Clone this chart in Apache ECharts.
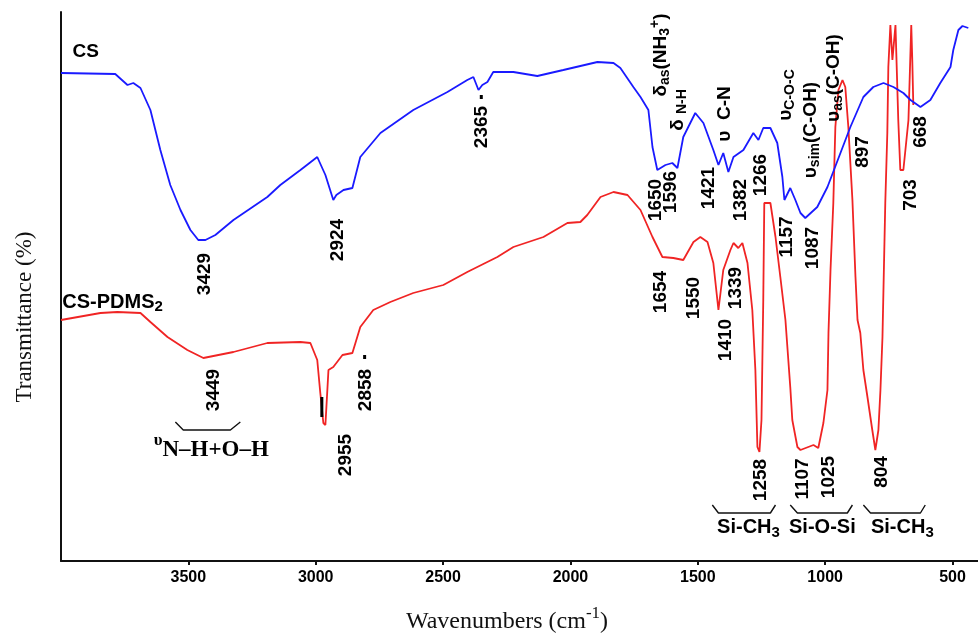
<!DOCTYPE html>
<html><head><meta charset="utf-8">
<script src="https://cdn.jsdelivr.net/npm/echarts@6/dist/echarts.min.js"></script>
<style>html,body{margin:0;padding:0;background:#fff}#c{width:978px;height:639px}</style>
</head><body><div id="c"></div>
<script>
// ---- data (wavenumber in cm-1, transmittance in arbitrary units) ----
const csWavenumber = [4000,3787,3739,3716,3688,3649,3610,3571,3531,3492,3461,3433,3394,3323,3190,3139,3060,2994,2962,2931,2919,2891,2856,2825,2746,2617,2483,2405,2381,2361,2346,2326,2303,2224,2130,2028,1894,1831,1804,1753,1725,1694,1678,1659,1627,1600,1580,1557,1510,1478,1439,1419,1400,1380,1360,1321,1282,1262,1243,1215,1188,1168,1160,1137,1117,1097,1078,1031,991,940,901,850,811,771,732,693,665,626,587,548,508,497,477,461,438];
const csTransmittance = [488,487,476,478,473,451,411,376,351,331,321,321,326,341,364,376,391,404,386,361,366,371,373,404,428,451,469,481,484,471,476,479,489,489,485,491,499,498,493,474,464,451,414,391,396,398,393,424,448,438,411,396,408,389,404,411,428,421,433,433,418,384,361,373,361,348,343,354,374,408,434,464,474,478,474,468,461,454,461,478,494,511,531,535,533];
const pdmsWavenumber = [4000,3845,3779,3688,3649,3582,3504,3441,3323,3190,3060,3021,2994,2982,2970,2962,2950,2931,2895,2856,2825,2774,2707,2617,2499,2405,2287,2224,2106,2012,1961,1934,1882,1831,1776,1725,1678,1639,1596,1557,1517,1490,1462,1439,1419,1400,1372,1360,1341,1325,1305,1286,1274,1266,1258,1250,1243,1239,1215,1195,1176,1156,1137,1129,1109,1097,1046,1027,1007,991,987,979,968,960,948,932,921,909,893,881,873,862,850,834,815,803,791,783,775,764,756,752,744,736,724,717,713,705,693,681,673,662,658,654];
const pdmsTransmittance = [241,248,249,248,239,224,211,203,209,218,219,218,201,168,138,136,191,194,206,208,234,251,259,268,276,289,304,314,324,338,339,346,364,369,366,351,324,304,303,301,319,324,319,298,251,291,311,318,313,318,298,251,191,114,109,141,261,358,358,324,284,241,174,141,114,111,116,113,138,171,228,291,358,434,471,481,474,434,361,284,241,228,191,164,131,111,131,171,224,358,428,494,536,501,536,536,441,391,391,421,441,536,501,456];
const xTickValues = [500,1000,1500,2000,2500,3000,3500];

// peak labels (text) and their anchors in data space
const csPeakTexts = ['3429','2924','2365','1650','1596','1421','1382','1266','1157','1087','897','703','668'];
const csPeakAnchors = [[3437,287],[2915,321],[2350,434],[1667,361],[1608,369],[1458,373],[1333,361],[1254,386],[1152,324],[1050,313],[854,409],[665,366],[626,429]];
const pdmsPeakTexts = ['3449','2955','2858','1654','1550','1410','1339','1258','1107','1025','804'];
const pdmsPeakAnchors = [[3402,171],[2884,106],[2805,171],[1647,269],[1517,263],[1392,221],[1352,273],[1254,81],[1089,82],[987,84],[779,89]];
const bandTexts = ['{m|δ}{s|as}{m|(NH}{s|3}{p|+}{m|)}','{m|δ }{s|N-H}','{m|υ  C-N}','{m|υ}{s|C-O-C}','{m|υ}{s|sim}{m|(C-OH)}','{m|υ}{s|as}{m|(C-OH)}'];
const bandAnchors = [[1647,506],[1580,451],[1396,447],[1156,466],[1058,431],[968,483]];
const groupTexts = ['{g|Si-CH}{gs|3}','{g|Si-O-Si}','{g|Si-CH}{gs|3}'];
const groupAnchors = [[1301,34],[1011,34],[697,34]];
// brackets: [left-top, left-bottom, right-bottom, right-top wavenumbers, top level, bottom level]
const brackets = [[3551,3520,3335,3296,139,131],[1443,1419,1215,1195,56,48],[1137,1109,913,893,56,48],[850,822,626,607,56,48]];
// small black peak markers: [wavenumber, from level, to level]
const peakMarkers = [[2976,144,164],[2350,462,466],[2808,202,206]];

const SANS = 'Liberation Sans', SERIF = 'Liberation Serif';
const INK = '#000';
const zip = (a, b) => a.map((x, i) => [x, b[i]]);
const tok = (o) => Object.assign({fontFamily: SANS, fontWeight: 'bold', color: INK, textBorderWidth: 0, opacity: 1}, o);
const txt = {fontFamily: SANS, fontWeight: 'bold', fontSize: 19, color: INK, textBorderWidth: 0, opacity: 1};
const richSans = {
  m: tok({fontSize: 19, lineHeight: 24}),
  s: tok({fontSize: 14, verticalAlign: 'bottom', lineHeight: 14}),
  p: tok({fontSize: 14, verticalAlign: 'top', lineHeight: 14}),
  g: tok({fontSize: 20, lineHeight: 26}),
  gs: tok({fontSize: 15, verticalAlign: 'bottom', lineHeight: 12})
};

function textSeries(anchors, texts, rotate, extra) {
  return {
    type: 'scatter', symbolSize: 0, silent: true, z: 6, animation: false,
    itemStyle: {color: INK, opacity: 1},
    data: anchors.map((p, i) => ({value: p, label: {formatter: texts[i]}})),
    label: Object.assign({show: true, position: 'inside', rotate: rotate, rich: richSans}, txt, extra || {})
  };
}

const series = [
  {type: 'line', name: 'CS', data: zip(csWavenumber, csTransmittance), symbol: 'none',
   lineStyle: {color: '#1a1aff', width: 1.8}, z: 3},
  {type: 'line', name: 'CS-PDMS2', data: zip(pdmsWavenumber, pdmsTransmittance), symbol: 'none',
   lineStyle: {color: '#f02424', width: 1.8}, z: 2},
  textSeries(csPeakAnchors, csPeakTexts, 90),
  textSeries(pdmsPeakAnchors, pdmsPeakTexts, 90),
  textSeries(bandAnchors, bandTexts, 90),
  textSeries(groupAnchors, groupTexts, 0),
  textSeries([[3955,509]], ['CS'], 0, {position: 'right', distance: 0, fontSize: 19}),
  textSeries([[3995,259]], ['{m|CS-PDMS}{s|2}'], 0, {position: 'right', distance: 0,
    rich: {m: tok({fontSize: 20, lineHeight: 24}), s: tok({fontSize: 15, verticalAlign: 'bottom', lineHeight: 14})}}),
  textSeries([[3410,114]], ['{u|υ}{n|N–H+O–H}'], 0, {
    rich: {u: tok({fontFamily: SERIF, fontSize: 17, verticalAlign: 'top', lineHeight: 18}),
           n: tok({fontFamily: SERIF, fontSize: 23, verticalAlign: 'bottom', lineHeight: 30})}})
];
brackets.forEach(b => {
  series.push({type: 'line', data: [[b[0], b[4]], [b[1], b[5]], [b[2], b[5]], [b[3], b[4]]], symbol: 'none',
    silent: true, lineStyle: {color: '#111', width: 1.4}, z: 4});
});
peakMarkers.forEach(m => {
  series.push({type: 'line', data: [[m[0], m[1]], [m[0], m[2]]], symbol: 'none',
    silent: true, lineStyle: {color: '#000', width: 3}, z: 5});
});

const chart = echarts.init(document.getElementById('c'));
chart.setOption({
  animation: false,
  backgroundColor: '#fff',
  grid: {left: 61, right: 0, top: 12, bottom: 78, containLabel: false},
  xAxis: {
    type: 'value', min: 400, max: 4000, inverse: true,
    axisLine: {show: true, lineStyle: {color: '#111', width: 2}},
    axisTick: {show: true, customValues: xTickValues, length: 4, lineStyle: {color: '#111', width: 2}},
    axisLabel: {customValues: xTickValues, formatter: (v) => String(v), color: INK,
      fontFamily: SANS, fontWeight: 'bold', fontSize: 16, margin: 9},
    splitLine: {show: false}
  },
  yAxis: {
    type: 'value', min: 0, max: 549,
    axisLine: {show: true, lineStyle: {color: '#111', width: 2}},
    axisTick: {show: false}, axisLabel: {show: false}, splitLine: {show: false}
  },
  graphic: [
    {type: 'text', x: 507, y: 622, silent: true, style: {
      text: 'Wavenumbers (cm{sup|-1})', align: 'center', verticalAlign: 'middle',
      font: '24px "Liberation Serif"', fill: '#111',
      rich: {sup: {fontFamily: SERIF, fontSize: 17, fill: '#111', verticalAlign: 'top', lineHeight: 34}}}},
    {type: 'text', x: 25, y: 317, rotation: Math.PI / 2, silent: true, style: {
      text: 'Transmittance (%)', align: 'center', verticalAlign: 'middle',
      font: '23px "Liberation Serif"', fill: '#111'}}
  ],
  series: series
});
</script>
</body></html>
